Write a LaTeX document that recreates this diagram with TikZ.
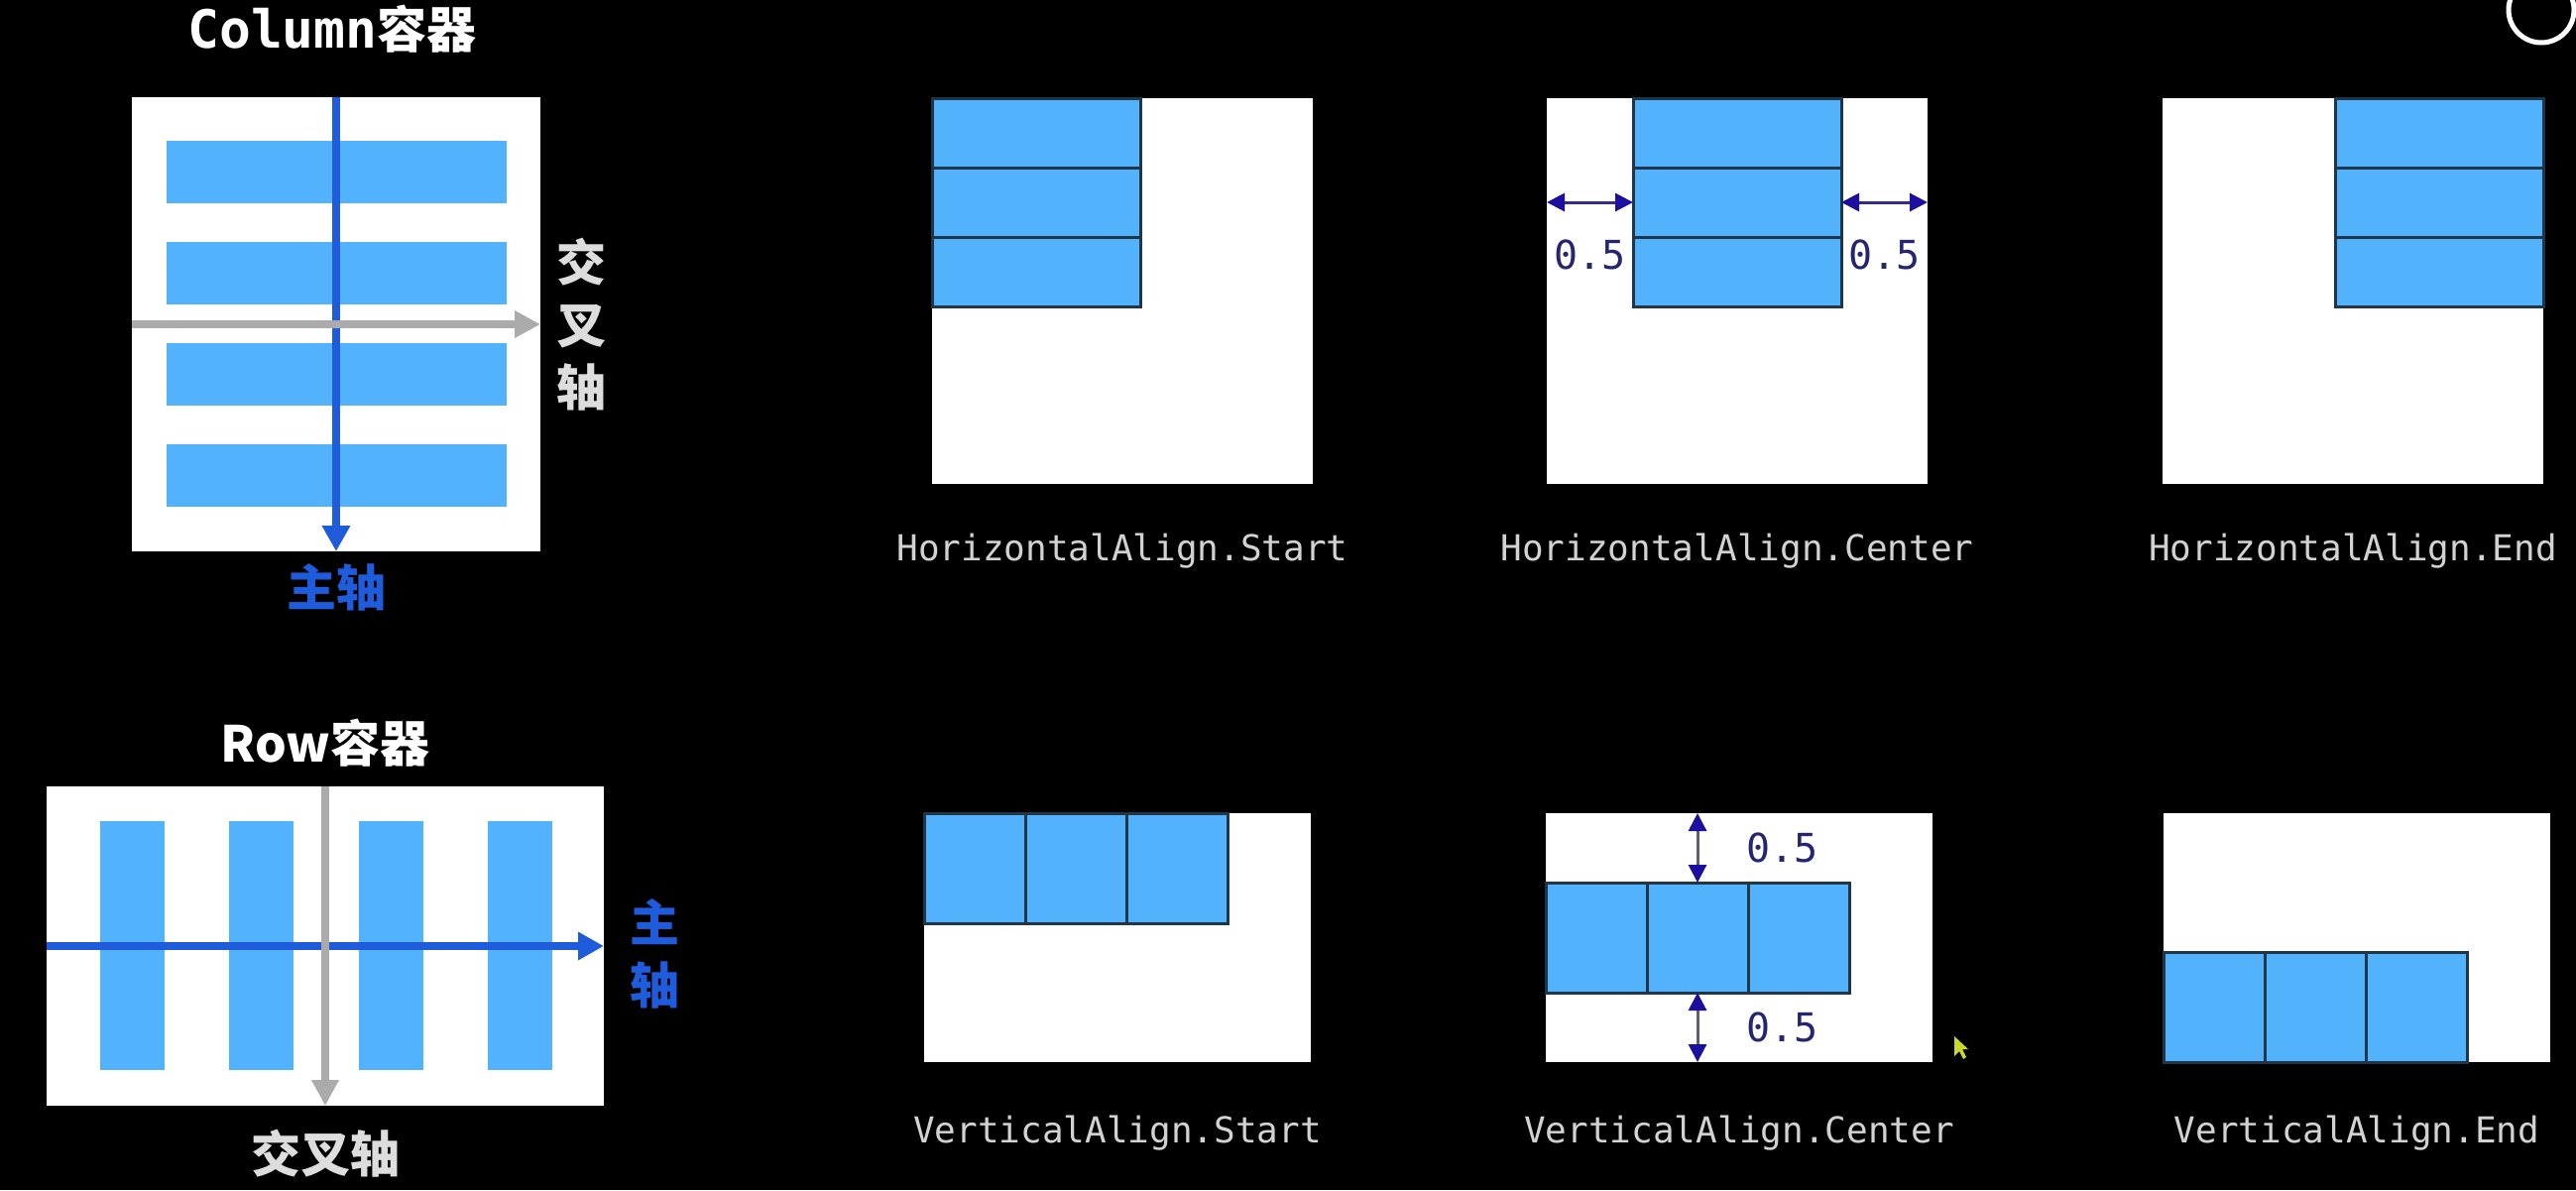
\documentclass[tikz,border=0pt]{standalone}
\usepackage{fontspec}
\setmainfont{DejaVu Sans}
\newfontfamily\cjkfont{Noto Sans CJK SC}
\newfontfamily\monofont{DejaVu Sans Mono}
\usetikzlibrary{arrows.meta,positioning}

\definecolor{barblue}{HTML}{52B2FC}
\definecolor{celledge}{HTML}{1F3548}
\definecolor{axisblue}{HTML}{1F5CDB}
\definecolor{axisgray}{HTML}{ABABAB}
\definecolor{gapnavy}{HTML}{1C0FA0}
\definecolor{gapline}{HTML}{2E2E8A}
\definecolor{vgapline}{HTML}{5E5E72}
\definecolor{numnavy}{HTML}{262670}
\definecolor{capgray}{HTML}{D2D2D2}
\definecolor{labelgray}{HTML}{DDDDDD}
\definecolor{cursoryellow}{HTML}{C9DA2A}

\begin{document}
\begin{tikzpicture}
[x=1pt,y=1pt,
panel/.style={rectangle,fill=white,inner sep=0pt,outer sep=0pt},
bar/.style={rectangle,fill=barblue,inner sep=0pt,outer sep=0pt},
cell/.style={rectangle,fill=barblue,draw=celledge,line width=3pt,inner sep=0pt,outer sep=0pt},
hcell/.style={cell,minimum width=210pt,minimum height=70pt},
vcell/.style={cell,minimum width=102pt,minimum height=111pt},
title/.style={text=white,font=\cjkfont\bfseries\fontsize{50}{56}\selectfont,inner sep=0pt},
crosslabel/.style={text=labelgray,font=\cjkfont\bfseries\fontsize{50}{63}\selectfont,align=center,inner sep=0pt},
mainlabel/.style={text=axisblue,font=\cjkfont\bfseries\fontsize{50}{63}\selectfont,align=center,inner sep=0pt},
caption/.style={text=capgray,font=\monofont\fontsize{36}{40}\selectfont,inner sep=0pt},
gaplabel/.style={text=numnavy,font=\monofont\fontsize{40}{44}\selectfont,inner sep=0pt},
dimtip/.tip={Triangle[length=18pt,width=18pt,color=gapnavy]},
mainaxis/.style={draw=axisblue,line width=8pt,-{Triangle[length=26pt,width=27pt]}},
crossaxis/.style={draw=axisgray,line width=8pt,-{Triangle[length=26pt,width=26pt]}},
hgap/.style={draw=gapline,line width=3pt,dimtip-dimtip},
vgap/.style={draw=vgapline,line width=3pt,dimtip-dimtip}]

\fill[black] (0,0) rectangle (2598,-1200);
\useasboundingbox (0,0) rectangle (2598,-1200);

% Column container
\node[panel,minimum width=412pt,minimum height=458pt,anchor=north west] (colpanel) at (133,-98) {};
\foreach \i in {0,...,3}
	\node[bar,minimum width=343pt,minimum height=63pt,anchor=north] (cbar\i) at (339,-142-102*\i) {};
\draw[mainaxis] (colpanel.north) -- (colpanel.south);
\draw[crossaxis] (colpanel.west) -- (colpanel.east);
\node[title,above=45pt of colpanel,xshift=-4pt] (coltitle) {{\monofont\bfseries\fontsize{53}{56}\selectfont Column}容器};
\node[crosslabel,right=16pt of colpanel.east] (colcross) {交\\叉\\轴};
\node[mainlabel,below=12pt of colpanel.south] (colmain) {主轴};

% Row container
\node[panel,minimum width=562pt,minimum height=322pt,anchor=north west] (rowpanel) at (47,-793) {};
\foreach \i in {0,...,3}
	\node[bar,minimum width=65pt,minimum height=251pt,anchor=north] (rbar\i) at (133.5+130.3*\i,-828) {};
\draw[mainaxis] (rowpanel.west) -- (rowpanel.east);
\draw[crossaxis] (rowpanel.north) -- (rowpanel.south);
\node[title,above=20pt of rowpanel] (rowtitle) {Row容器};
\node[mainlabel,right=26pt of rowpanel.east,yshift=-8pt] (rowmain) {主\\轴};
\node[crosslabel,below=24pt of rowpanel.south] (rowcross) {交叉轴};

% HorizontalAlign panels
\node[panel,minimum width=384pt,minimum height=389pt,anchor=north west] (hspanel) at (940,-99) {};
\node[panel,minimum width=384pt,minimum height=389pt,right=236pt of hspanel] (hcpanel) {};
\node[panel,minimum width=384pt,minimum height=389pt,right=237pt of hcpanel] (hepanel) {};

\node[hcell,anchor=north west] (hs1) at (hspanel.north west) {};
\node[hcell,below=0pt of hs1] (hs2) {};
\node[hcell,below=0pt of hs2] (hs3) {};

\node[hcell,anchor=north] (hc1) at (hcpanel.north) {};
\node[hcell,below=0pt of hc1] (hc2) {};
\node[hcell,below=0pt of hc2] (hc3) {};

\node[hcell,anchor=north east] (he1) at (hepanel.north east) {};
\node[hcell,below=0pt of he1] (he2) {};
\node[hcell,below=0pt of he2] (he3) {};

\draw[hgap] (hc2.west -| hcpanel.west) -- node[gaplabel,below=36pt] (hcleft) {0.5} (hc2.west);
\draw[hgap] (hc2.east) -- node[gaplabel,below=36pt] (hcright) {0.5} (hc2.east -| hcpanel.east);

\node[caption,below=50pt of hspanel] (hscap) {HorizontalAlign.Start};
\node[caption,below=50pt of hcpanel] (hccap) {HorizontalAlign.Center};
\node[caption,below=50pt of hepanel] (hecap) {HorizontalAlign.End};

% VerticalAlign panels
\node[panel,minimum width=390pt,minimum height=251pt,anchor=north west] (vspanel) at (932,-820) {};
\node[panel,minimum width=390pt,minimum height=251pt,right=237pt of vspanel] (vcpanel) {};
\node[panel,minimum width=390pt,minimum height=251pt,right=233pt of vcpanel] (vepanel) {};

\node[vcell,anchor=north west] (vs1) at (vspanel.north west) {};
\node[vcell,right=0pt of vs1] (vs2) {};
\node[vcell,right=0pt of vs2] (vs3) {};

\node[vcell,anchor=west] (vc1) at (vcpanel.west) {};
\node[vcell,right=0pt of vc1] (vc2) {};
\node[vcell,right=0pt of vc2] (vc3) {};

\node[vcell,anchor=south west] (ve1) at (vepanel.south west) {};
\node[vcell,right=0pt of ve1] (ve2) {};
\node[vcell,right=0pt of ve2] (ve3) {};

\draw[vgap] (vc2.north |- vcpanel.north) -- node[gaplabel,right=48pt] (vctop) {0.5} (vc2.north);
\draw[vgap] (vc2.south) -- node[gaplabel,right=48pt] (vcbottom) {0.5} (vc2.south |- vcpanel.south);

\node[caption,below=54pt of vspanel] (vscap) {VerticalAlign.Start};
\node[caption,below=54pt of vcpanel] (vccap) {VerticalAlign.Center};
\node[caption,below=54pt of vepanel] (vecap) {VerticalAlign.End};

% screen leftovers
\fill[cursoryellow] (1971,-1045) -- (1971,-1065) -- (1976,-1060) -- (1980,-1068) -- (1983,-1066) -- (1979,-1058) -- (1985,-1058) -- cycle;
\draw[white,line width=5pt] (2563,-10) circle[radius=33pt];

\end{tikzpicture}
\end{document}
